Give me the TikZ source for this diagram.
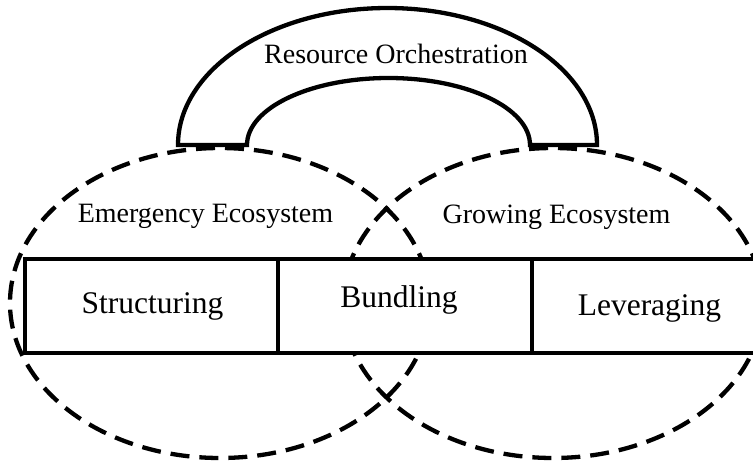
\documentclass[tikz,border=0pt]{standalone}
\usepackage{fontspec}
\setmainfont{Liberation Serif}
\begin{document}
\begin{tikzpicture}[x=1pt,y=-1pt,
  thickline/.style={line width=4.3pt, draw=black},
  dashline/.style={line width=4.3pt, draw=black, dash pattern=on 19pt off 10pt},
  cell/.style={thickline, fill=white},
  smalltxt/.style={anchor=base, inner sep=0pt, font=\fontsize{28}{30}\selectfont},
  bigtxt/.style={anchor=base, inner sep=0pt, font=\fontsize{31.5}{34}\selectfont}]
\useasboundingbox (0,0) rectangle (753,464);
\clip (0,0) rectangle (753,464);
% ecosystems
\draw[dashline] (220,303) ellipse [x radius=210, y radius=155];
\draw[dashline] (553,303) ellipse [x radius=210, y radius=155];
% arch
\draw[thickline, line join=miter]
  (178,145) arc[start angle=180, end angle=360, x radius=209.5, y radius=137]
  -- (530,145) arc[start angle=360, end angle=180, x radius=141.5, y radius=67]
  -- cycle;
% box cells
\draw[cell] (25,259) rectangle (278,353);
\draw[cell] (278,259) rectangle (532,353);
\draw[cell] (532,259) rectangle (770,353);
% labels
\node[smalltxt] (ro) at (396,63) {Resource Orchestration};
\node[smalltxt] (ee) at (205.5,222) {Emergency Ecosystem};
\node[smalltxt] (ge) at (556.5,223) {Growing Ecosystem};
\node[bigtxt] (st) at (152.5,313) {Structuring};
\node[bigtxt] (bu) at (399,307) {Bundling};
\node[bigtxt] (le) at (649.5,315) {Leveraging};
\end{tikzpicture}
\end{document}
